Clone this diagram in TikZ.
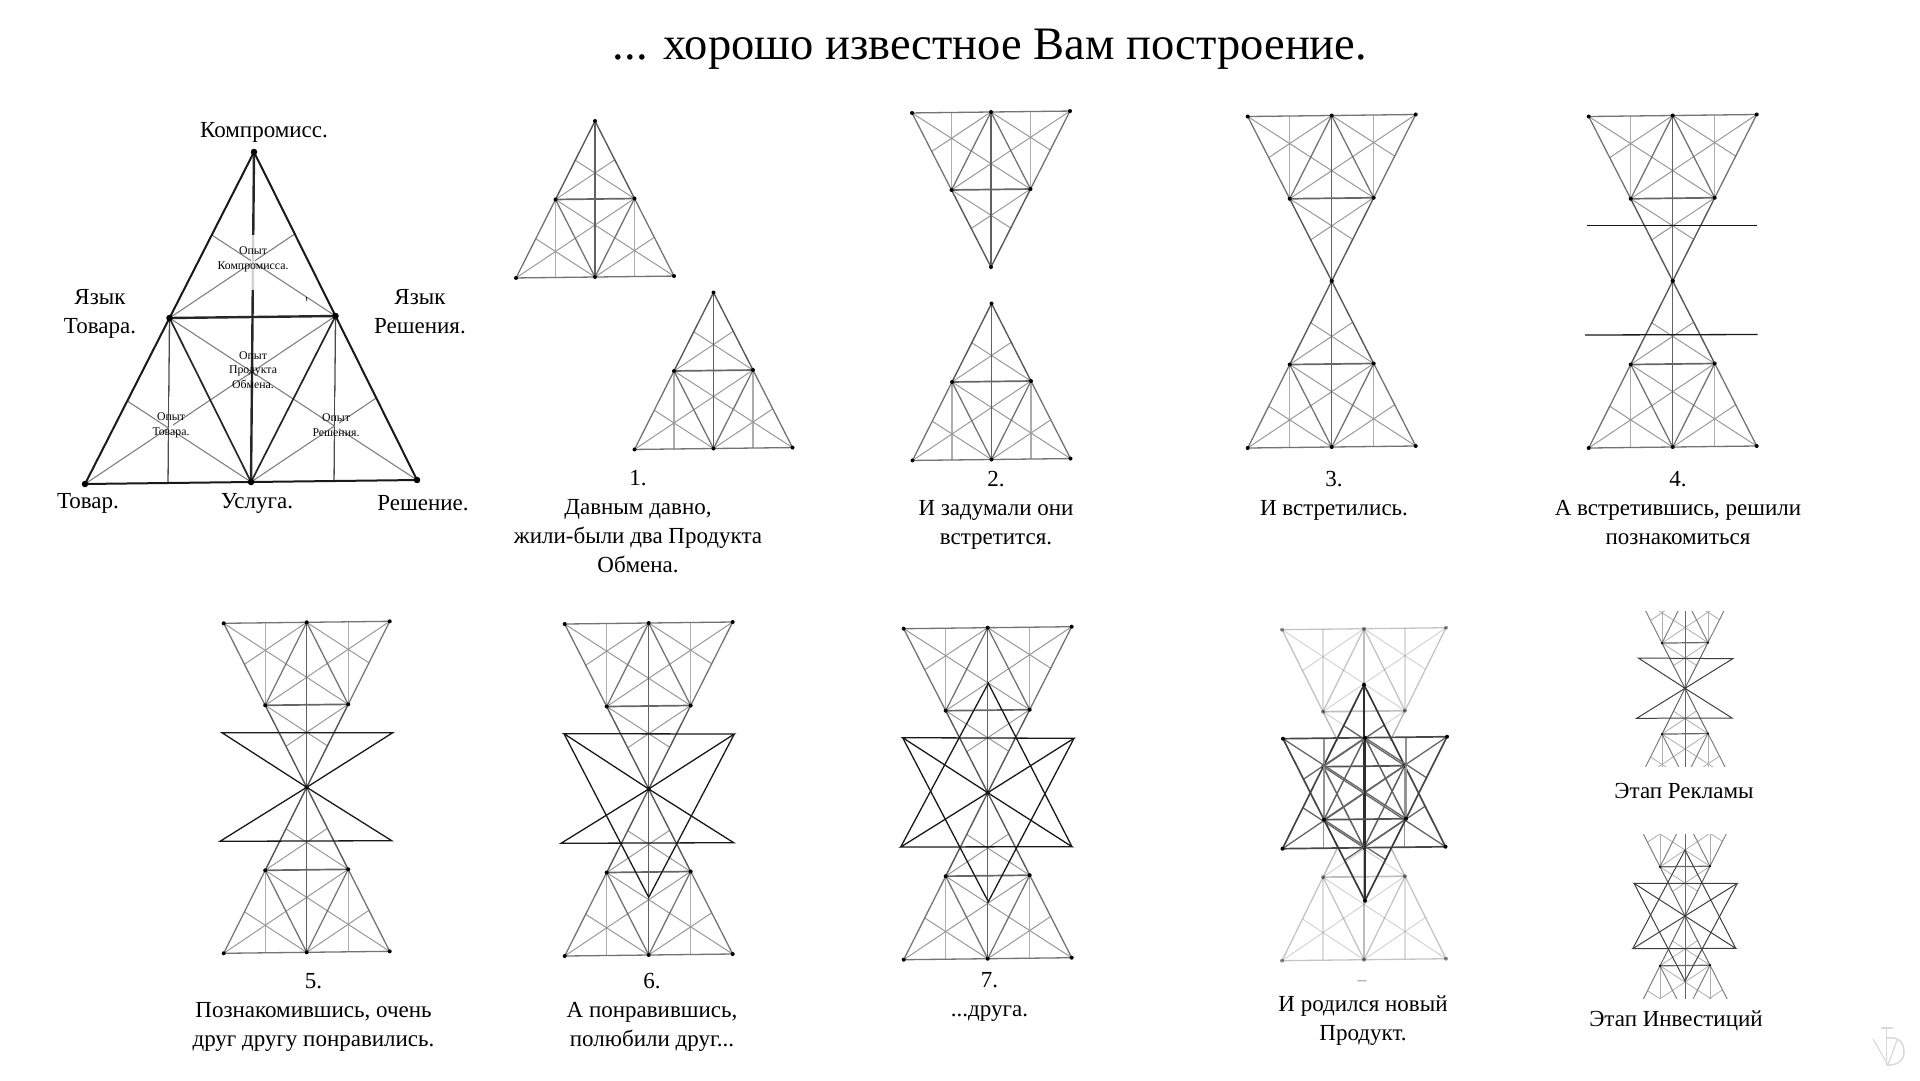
\documentclass[tikz,border=0pt]{standalone}
\usepackage{fontspec}
\setmainfont{Liberation Serif}

\definecolor{logogray}{gray}{0.85}

\tikzset{
  triedge/.style={line width=1.3pt, black!55},
  triupper/.style={line width=1.4pt, black!65},
  trispine/.style={line width=1.5pt, black!62},
  tribar/.style={line width=1.7pt, black!60},
  trispoke/.style={line width=1.3pt, black!55},
  trifine/.style={line width=1pt, black!40},
  trivert/.style={line width=1.3pt, black!32},
  tridot/.style={circle, fill=black, inner sep=0pt, minimum size=4pt},
  wingline/.style={line width=1.3pt, black!90},
  capt/.style={align=center, inner sep=0pt, font=\fontsize{23}{29}\selectfont},
  smallcapt/.style={align=center, inner sep=0pt, font=\fontsize{11.8}{14.5}\selectfont},
  mainfig/.style={
    triedge/.style={line width=2pt, black!90},
    triupper/.style={line width=2pt, black!90},
    trispine/.style={line width=2.4pt, black!85},
    tribar/.style={line width=2.4pt, black!85},
    trispoke/.style={line width=1.7pt, black!85},
    trifine/.style={line width=1.1pt, black!50},
    trivert/.style={line width=1.3pt, black!70},
    tridot/.style={circle, fill=black, inner sep=0pt, minimum size=6.5pt}},
  smallfig/.style={
    triedge/.style={line width=1pt, black!50},
    triupper/.style={line width=1pt, black!60},
    trispine/.style={line width=1pt, black!60},
    tribar/.style={line width=1.2pt, black!60},
    trispoke/.style={line width=1pt, black!50},
    trifine/.style={line width=.8pt, black!32},
    trivert/.style={line width=1pt, black!32},
    tridot/.style={circle, fill=black, inner sep=0pt, minimum size=2.5pt}},
  palefig/.style={opacity=0.42},
  starfig/.style={
    triedge/.style={line width=1.7pt, black!72},
    triupper/.style={line width=1.7pt, black!78},
    trispine/.style={line width=1.7pt, black!82},
    tribar/.style={line width=1.7pt, black!68},
    trispoke/.style={line width=1.5pt, black!62},
    trifine/.style={line width=1.3pt, black!60},
    trivert/.style={line width=1.3pt, black!42}}
}

\newcommand{\prodtri}[5][]{%
  \begin{scope}[shift={(#2,#3)},#1,x={(#4pt,0.012*#4pt)},y={(0pt,-1pt*#5)}]
    \coordinate (a) at (0,0);
    \coordinate (l) at (-1,1);
    \coordinate (r) at (1,1);
    \coordinate (m) at (0,1);
    \coordinate (p) at (-.5,.5);
    \coordinate (q) at (.5,.5);
    \draw[trivert] (p) -- (-.5,1);
    \draw[trivert] (q) -- (.5,1);
    \draw[trifine] (p) -- (r);
    \draw[trifine] (q) -- (l);
    \draw[trifine] (m) -- (-.75,.75);
    \draw[trifine] (m) -- (.75,.75);
    \draw[trifine] (p) -- (.25,.25);
    \draw[trifine] (q) -- (-.25,.25);
    \draw[trispoke] (p) -- (m) -- (q);
    \draw[triedge] (p) -- (l) -- (r) -- (q);
    \draw[triupper] (p) -- (a) -- (q);
    \draw[trispine] (a) -- (m);
    \draw[tribar] (p) -- (q);
    \node[tridot] at (a) {};
    \node[tridot] at (l) {};
    \node[tridot] at (r) {};
    \node[tridot] at (m) {};
    \node[tridot] at (p) {};
    \node[tridot] at (q) {};
  \end{scope}}

\begin{document}
\begin{tikzpicture}[x=1pt,y=-1pt]
  \useasboundingbox (0,0) rectangle (1920,1080);

  \node[inner sep=0pt, font=\fontsize{46.5}{50}\selectfont] (title) at (990,49) {... хорошо известное Вам построение.};

  \prodtri[mainfig,xslant=0.009]{254}{152}{166}{330}
  \coordinate (gapa) at (253,235);
  \coordinate (gapb) at (253,290);
  \coordinate (gapc) at (171,397);
  \coordinate (gapd) at (171,453);
  \coordinate (gape) at (337,397);
  \coordinate (gapf) at (337,453);
  \draw[white, opacity=.8, line width=3.5pt] (gapa) -- (gapb);
  \draw[white, opacity=.9, line width=3.5pt] (gapc) -- (gapd);
  \draw[white, opacity=.9, line width=3.5pt] (gape) -- (gapf);
  \coordinate (ticka) at (306.5,297);
  \coordinate (tickb) at (306.8,301);
  \draw[line width=.8pt] (ticka) -- (tickb);

  \node[capt] (kompromiss) at (264,132) {Компромисс.};
  \node[capt] (yaztovar) at (100,314) {Язык\\Товара.};
  \node[capt] (yazresh) at (420,312) {Язык\\Решения.};
  \node[capt] (tovar) at (88,503) {Товар.};
  \node[capt] (usluga) at (257,503) {Услуга.};
  \node[capt] (reshenie) at (423,503) {Решение.};
  \node[smallcapt] (opkomp) at (253,259.5) {Опыт\\Компромисса.};
  \node[smallcapt] (opprod) at (253,370) {Опыт\\Продукта\\Обмена.};
  \node[smallcapt] (optov) at (171,425.5) {Опыт\\Товара.};
  \node[smallcapt] (opresh) at (336,425) {Опыт\\Решения.};

  \prodtri{595}{121}{79}{156}
  \prodtri{713.5}{292.5}{79}{156}
  \node[capt] (one) at (638,522) {1.\\Давным давно,\\жили-были два Продукта\\Обмена.};

  \prodtri{991}{267}{79}{-155}
  \prodtri{991.5}{303.5}{79}{156}
  \node[capt] (two) at (996,510) {2.\\И задумали они\\встретится.};

  \prodtri{1331.7}{281}{84}{-165.5}
  \prodtri{1331.7}{281}{84}{166}
  \node[capt] (three) at (1334,496) {3.\\И встретились.};

  \prodtri{1672.7}{281}{84}{-165.5}
  \prodtri{1672.7}{281}{84}{166}
  \coordinate (fourtl) at (1587,225.3);
  \coordinate (fourtr) at (1757,225.3);
  \coordinate (fourbl) at (1585,335);
  \coordinate (fourbr) at (1757.7,334.5);
  \draw[wingline] (fourtl) -- (fourtr);
  \draw[wingline] (fourbl) -- (fourbr);
  \node[capt] (four) at (1678,508) {4.\\А встретившись, решили\\познакомиться};

  \prodtri{306.7}{787.3}{83}{-165}
  \prodtri{306.7}{787.3}{83}{165}
  \coordinate (fivec) at (306.7,787.3);
  \coordinate (fivetl) at (222,732.7);
  \coordinate (fivetr) at (392.7,732.7);
  \coordinate (fivebl) at (220,841.3);
  \coordinate (fivebr) at (391.7,840.7);
  \draw[wingline] (fivec) -- (fivetl) -- (fivetr) -- cycle;
  \draw[wingline] (fivec) -- (fivebl) -- (fivebr) -- cycle;
  \node[capt] (five) at (313.5,1012) {5.\\Познакомившись, очень\\друг другу понравились.};

  \prodtri{648.7}{789}{84}{-166}
  \prodtri{648.7}{789}{84}{166}
  \coordinate (sixc) at (648.7,789);
  \coordinate (sixtip) at (648.7,897.3);
  \coordinate (sixtl) at (564,733.7);
  \coordinate (sixtr) at (734.3,734);
  \coordinate (sixbl) at (561,843.3);
  \coordinate (sixbr) at (733.7,842.7);
  \draw[wingline] (sixc) -- (sixtl) -- (sixtr) -- cycle;
  \draw[wingline] (sixc) -- (sixbl) -- (sixbr) -- cycle;
  \draw[wingline] (sixtl) -- (sixtip) -- (sixtr);
  \node[capt] (six) at (652,1012) {6.\\А понравившись,\\полюбили друг...};

  \prodtri{987.7}{792.7}{84}{-165}
  \prodtri{987.7}{792.7}{84}{166}
  \coordinate (sevenc) at (987.7,792.7);
  \coordinate (sevenup) at (988.3,683.3);
  \coordinate (sevendn) at (988.3,901.7);
  \coordinate (seventl) at (902.7,737.7);
  \coordinate (seventr) at (1074,738.3);
  \coordinate (sevenbl) at (900.7,847);
  \coordinate (sevenbr) at (1072,846.7);
  \draw[wingline] (sevenc) -- (seventl) -- (seventr) -- cycle;
  \draw[wingline] (sevenc) -- (sevenbl) -- (sevenbr) -- cycle;
  \draw[wingline] (seventl) -- (sevendn) -- (seventr);
  \draw[wingline] (sevenbl) -- (sevenup) -- (sevenbr);
  \node[capt] (seven) at (989.5,997) {7.\\...друга.};

  \prodtri[palefig]{1364}{793.7}{82}{-165}
  \prodtri[palefig]{1364}{793.7}{82}{166}
  \coordinate (bandtl) at (1278,741);
  \coordinate (bandbr) at (1450,847);
  \fill[white] (bandtl) rectangle (bandbr);
  \prodtri[starfig]{1364}{684.7}{81.5}{163}
  \prodtri[starfig]{1365}{900.7}{82}{-163}
  \node[inner sep=0pt, black!45, font=\fontsize{18}{20}\selectfont] (dash) at (1362,983) {–};
  \node[capt] (eight) at (1363,1021) {И родился новый\\Продукт.};

  \begin{scope}
    \clip (1630,611) rectangle (1740,766.7);
    \prodtri[smallfig]{1685}{688.3}{46}{-91}
    \prodtri[smallfig]{1685}{688.3}{46}{91}
  \end{scope}
  \coordinate (adc) at (1685,688.3);
  \coordinate (adtl) at (1638.3,658);
  \coordinate (adtr) at (1732.7,658.7);
  \coordinate (adbl) at (1636.7,718.3);
  \coordinate (adbr) at (1732,718);
  \draw[wingline, line width=1pt, black!75] (adc) -- (adtl) -- (adtr) -- cycle;
  \draw[wingline, line width=1pt, black!75] (adc) -- (adbl) -- (adbr) -- cycle;
  \node[capt] (adlabel) at (1684,791) {Этап Рекламы};

  \begin{scope}
    \clip (1630,834) rectangle (1740,998.3);
    \prodtri[smallfig]{1685}{916}{50}{-99}
    \prodtri[smallfig]{1685}{916}{50}{99}
  \end{scope}
  \coordinate (invc) at (1685,916);
  \coordinate (invup) at (1685,850);
  \coordinate (invdn) at (1685,981);
  \coordinate (invtl) at (1634,883.3);
  \coordinate (invtr) at (1737.3,883.3);
  \coordinate (invbl) at (1632.7,948.7);
  \coordinate (invbr) at (1735.7,948.3);
  \draw[wingline, line width=1pt, black!75] (invc) -- (invtl) -- (invtr) -- cycle;
  \draw[wingline, line width=1pt, black!75] (invc) -- (invbl) -- (invbr) -- cycle;
  \draw[wingline, line width=1pt, black!75] (invtl) -- (invdn) -- (invtr);
  \draw[wingline, line width=1pt, black!75] (invbl) -- (invup) -- (invbr);
  \node[capt] (invlabel) at (1676,1021) {Этап Инвестиций};

  \draw[logogray, line width=1.3pt] (1881,1028) -- (1893,1028);
  \draw[logogray, line width=1.5pt] (1886.7,1028) -- (1886.7,1065);
  \draw[logogray, line width=1.2pt] (1873,1039) -- (1888,1065) -- (1897,1040);
  \draw[logogray, line width=1.5pt] (1886.7,1038) .. controls (1900,1036) and (1904,1044) .. (1904,1052) .. controls (1904,1060) and (1897,1066) .. (1886.7,1065);
\end{tikzpicture}
\end{document}
